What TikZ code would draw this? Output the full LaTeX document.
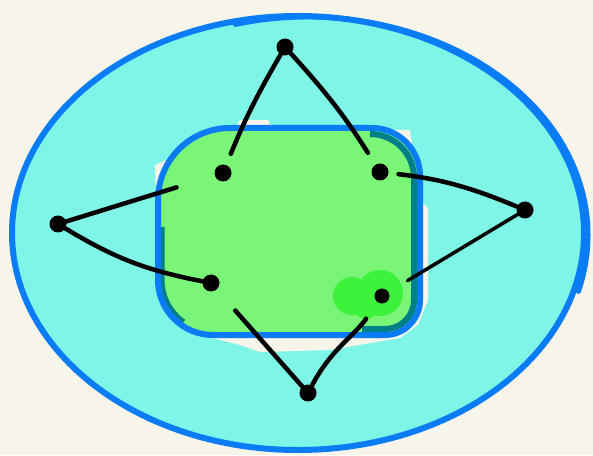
\documentclass[tikz,border=0pt]{standalone}
\usepackage{tikz}
\usetikzlibrary{positioning,calc}
\definecolor{SketchCream}{HTML}{F7F5EA}
\definecolor{SketchCyan}{HTML}{7EF5E7}
\definecolor{SketchGreen}{HTML}{7AF577}
\definecolor{SketchBlue}{HTML}{0A7CF5}
\definecolor{SketchTeal}{HTML}{007F86}
\definecolor{SketchLime}{HTML}{3CF23A}
% outline of the inner region, corners of different size
\newcommand{\innerblob}{(158,255) arc[start angle=180, end angle=90, radius=72]
  -- (372,327) arc[start angle=90, end angle=0, radius=48]
  -- (420,155) arc[start angle=0, end angle=-90, radius=35]
  -- (213,120) arc[start angle=-90, end angle=-180, radius=55] -- cycle}

\begin{document}
\begin{tikzpicture}[x=1pt, y=1pt,
  dot/.style={circle, fill=black, inner sep=0pt, minimum size=17pt},
  link/.style={black, line width=4.5pt, line cap=round}]
% Paper
\useasboundingbox[fill=SketchCream] (0,0) rectangle (593,455);

% Outer region with a second pen stroke along the top
\draw[fill=SketchCyan, draw=SketchBlue, line width=6pt] (298,222) ellipse [x radius=286, y radius=217];
\draw[SketchBlue, line width=5pt, line cap=round] (308,220) ++(105:280 and 218)
  arc[start angle=105, end angle=-15, x radius=280, y radius=218];

% Unpainted patch round the inner region
\fill[SketchCream] (155,290) -- (200,310) -- (237,330) -- (240,335) -- (268,335) -- (272,325)
  -- (410,325) -- (420,255) -- (428,247) -- (428,155) -- (418,130) -- (400,117)
  -- (330,105) -- (260,103) -- (240,110) -- (200,120) -- (170,135) -- (157,210) -- cycle;

% Inner region
\fill[SketchGreen] \innerblob;
\fill[SketchLime] (352,159) circle (19pt) (380,162) circle (23pt) (366,148) circle (12pt);
\draw[SketchTeal, line width=6pt] (370,321) arc[start angle=90, end angle=0, radius=44]
  -- (414,155) arc[start angle=0, end angle=-90, radius=29] -- (362,126);
\draw[SketchTeal, line width=5pt] (162,228) -- (162,175)
  arc[start angle=180, end angle=235, radius=51];
\draw[SketchBlue, line width=6pt] \innerblob;

% Vertices
\node[dot] (top) at (285,408) {};
\node[dot] (tl) at (223,282) {};
\node[dot] (tr) at (380,283) {};
\node[dot] (left) at (58,231) {};
\node[dot] (bl) at (211,172) {};
\node[dot] (right) at (525,245) {};
\node[dot, minimum size=15pt] (br) at (382,159) {};
\node[dot] (bottom) at (308,62) {};

% Edges of the cycle
\draw[link, shorten >=12pt] (top) to[bend right=4] (tl);
\draw[link, shorten >=14pt] (top) to[bend left=5] (tr);
\draw[link, shorten >=40pt] (left) -- (tl);
\draw[link] (left) to[bend right=10] (bl);
\draw[link, shorten <=28pt] (bl) -- (bottom);
\draw[link, shorten >=20pt] (bottom) to[out=62, in=-125] (br);
\draw[link, line width=3.5pt, shorten <=22pt, shorten >=-10pt] (br) -- (right);
\draw[link, shorten >=10pt] (right) to[bend right=8] (tr);
\end{tikzpicture}
\end{document}
